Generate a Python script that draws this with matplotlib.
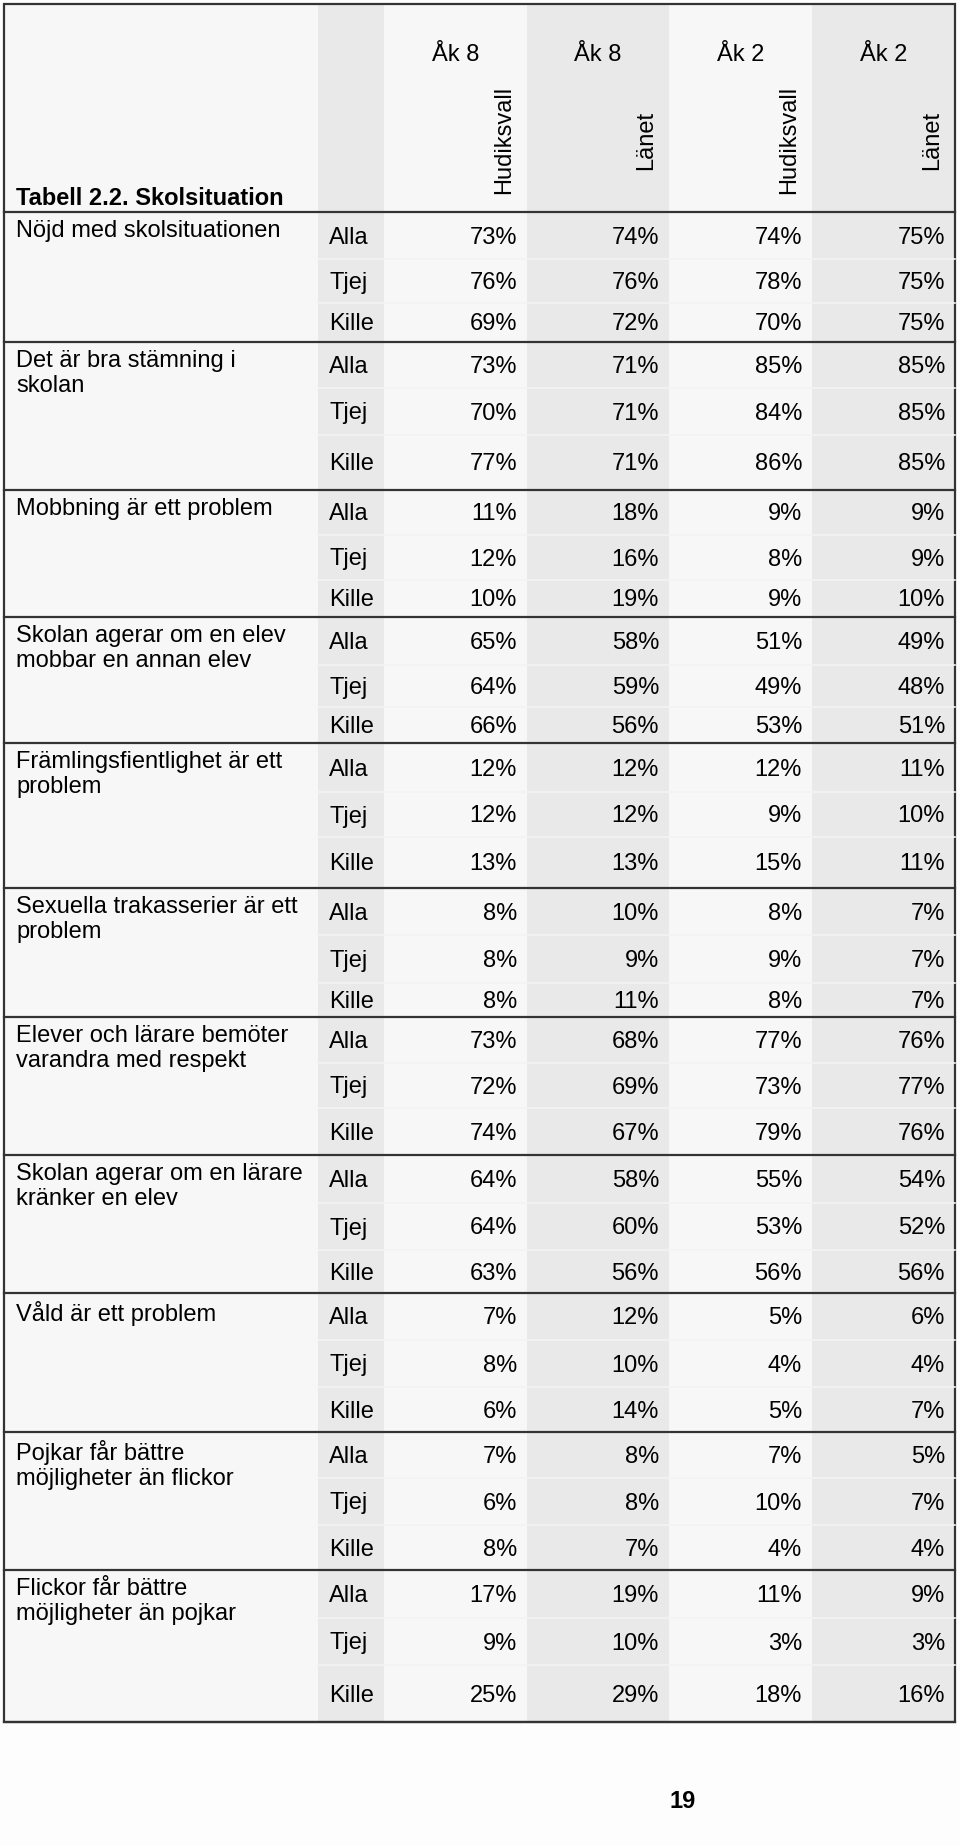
import numpy as np
import matplotlib
matplotlib.use('Agg')
import matplotlib.pyplot as plt
from matplotlib.patches import Rectangle

plt.rcParams['font.family'] = ['Liberation Sans', 'DejaVu Sans']

# Data
title = 'Tabell 2.2. Skolsituation'
page_no = '19'
years = ['Åk 8', 'Åk 8', 'Åk 2', 'Åk 2']
areas = ['Hudiksvall', 'Länet', 'Hudiksvall', 'Länet']
groups = ['Alla', 'Tjej', 'Kille']
questions = ['Nöjd med skolsituationen',
             'Det är bra stämning i\nskolan',
             'Mobbning är ett problem',
             'Skolan agerar om en elev\nmobbar en annan elev',
             'Främlingsfientlighet är ett\nproblem',
             'Sexuella trakasserier är ett\nproblem',
             'Elever och lärare bemöter\nvarandra med respekt',
             'Skolan agerar om en lärare\nkränker en elev',
             'Våld är ett problem',
             'Pojkar får bättre\nmöjligheter än flickor',
             'Flickor får bättre\nmöjligheter än pojkar']

# one value per row (Alla, Tjej, Kille for each question)
hud_ak8 = [73, 76, 69, 73, 70, 77, 11, 12, 10, 65, 64, 66, 12, 12, 13, 8, 8, 8,
           73, 72, 74, 64, 64, 63, 7, 8, 6, 7, 6, 8, 17, 9, 25]
lan_ak8 = [74, 76, 72, 71, 71, 71, 18, 16, 19, 58, 59, 56, 12, 12, 13, 10, 9, 11,
           68, 69, 67, 58, 60, 56, 12, 10, 14, 8, 8, 7, 19, 10, 29]
hud_ak2 = [74, 78, 70, 85, 84, 86, 9, 8, 9, 51, 49, 53, 12, 9, 15, 8, 9, 8,
           77, 73, 79, 55, 53, 56, 5, 4, 5, 7, 10, 4, 11, 3, 18]
lan_ak2 = [75, 75, 75, 85, 85, 85, 9, 9, 10, 49, 48, 51, 11, 10, 11, 7, 7, 7,
           76, 77, 76, 54, 52, 56, 6, 4, 7, 5, 7, 4, 9, 3, 16]

# Layout (pixels)
col_edges = [4, 318, 384, 527, 669, 812, 955]
table_top = 4
header_bottom = 212
row_heights = [47, 44, 39, 46, 47, 55, 45, 45, 37, 48, 42, 36, 49, 45, 51,
               47, 48, 34, 46, 45, 47, 48, 47, 43, 47, 47, 45, 46, 47, 45,
               48, 47, 57]
fs = 17
light = '#f7f7f7'
grey = '#e9e9e9'
line_col = '#333333'

fig = plt.figure(figsize=(9.6, 18.46), dpi=100)
fig.patch.set_facecolor('#fdfdfd')
ax = fig.add_axes([0, 0, 1, 1])
ax.set_xlim(0, 960)
ax.set_ylim(1846, 0)
ax.axis('off')

row_edges = header_bottom + np.concatenate([[0], np.cumsum(row_heights)])
table_bottom = row_edges[-1]

# column backgrounds
for i in range(len(col_edges) - 1):
    c = grey if i in (1, 3, 5) else light
    ax.add_patch(Rectangle((col_edges[i], table_top), col_edges[i + 1] - col_edges[i],
                           table_bottom - table_top, facecolor=c, edgecolor='none'))

# faint row lines
for k, y in enumerate(row_edges[1:-1]):
    if (k + 1) % 3 != 0:
        ax.plot([col_edges[1], col_edges[-1]], [y, y], color='#f3f3f3', lw=1.2)

# group separators + outer border
for y in row_edges[::3]:
    ax.plot([col_edges[0], col_edges[-1]], [y, y], color=line_col, lw=1.6)
ax.add_patch(Rectangle((col_edges[0], table_top), col_edges[-1] - col_edges[0],
                       table_bottom - table_top, facecolor='none', edgecolor=line_col, lw=1.6))

# header
for j in range(4):
    left, right = col_edges[j + 2], col_edges[j + 3]
    ax.text((left + right) / 2, 55, years[j], ha='center', va='center', fontsize=fs)
    ax.text(right - 12, 140, areas[j], rotation=90, ha='right', va='center', fontsize=fs)
ax.text(16, 205, title, ha='left', va='baseline', fontsize=fs, fontweight='bold')

# body
cols = [hud_ak8, lan_ak8, hud_ak2, lan_ak2]
for r in range(len(row_heights)):
    yc = (row_edges[r] + row_edges[r + 1]) / 2 + 2
    ax.text(col_edges[1] + 11, yc, groups[r % 3], ha='left', va='center', fontsize=fs)
    for j, col in enumerate(cols):
        ax.text(col_edges[j + 3] - 10, yc, str(col[r]) + '%', ha='right', va='center', fontsize=fs)

for q, label in enumerate(questions):
    ax.text(16, row_edges[q * 3] + 8, label, ha='left', va='top', fontsize=fs)

ax.text(683, 1802, page_no, ha='center', va='center', fontsize=fs, fontweight='bold')

fig.savefig('out.png', dpi=100, facecolor=fig.get_facecolor())
